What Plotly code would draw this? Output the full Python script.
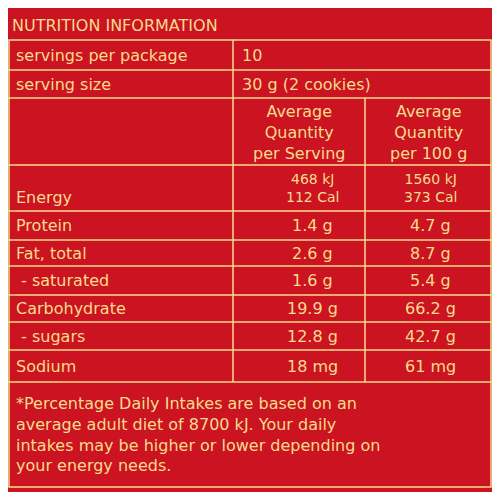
import plotly.graph_objects as go

title = "NUTRITION INFORMATION"
top_labels = ["servings per package", "serving size"]
top_values = ["10", "30 g (2 cookies)"]
col_headers = ["Average<br>Quantity<br>per Serving", "Average<br>Quantity<br>per 100 g"]
nutrients = ["Energy", "Protein", "Fat, total", " - saturated", "Carbohydrate", " - sugars", "Sodium"]
per_serving = ["468 kJ<br>112 Cal", "1.4 g", "2.6 g", "1.6 g", "19.9 g", "12.8 g", "18 mg"]
per_100g = ["1560 kJ<br>373 Cal", "4.7 g", "8.7 g", "5.4 g", "66.2 g", "42.7 g", "61 mg"]
footnote = ("*Percentage Daily Intakes are based on an<br>average adult diet of 8700 kJ. Your daily<br>"
            "intakes may be higher or lower depending on<br>your energy needs.")

BG = "#cc1322"
FG = "#f6dc8c"
FONT = "DejaVu Sans, Verdana, sans-serif"

top_bounds = [40, 70, 98]
header_bottom = 165
row_bounds = [165, 211, 240, 266, 295, 322, 350, 382]
foot_bottom = 487
xL, xR, c1, c2 = 8, 492, 233, 365

fig = go.Figure()
shapes = []
def line(x0, y0, x1, y1, w=1.5):
    shapes.append(dict(type="line", x0=x0, y0=y0, x1=x1, y1=y1, line=dict(color=FG, width=w)))

shapes.append(dict(type="rect", x0=xL + 1, y0=40, x1=xR - 1, y1=foot_bottom, line=dict(color=FG, width=1.5)))
for y in top_bounds[1:] + [header_bottom] + row_bounds[1:]:
    line(xL, y, xR, y)
line(c1, 40, c1, row_bounds[-1])
line(c2, top_bounds[2], c2, row_bounds[-1])

ann = []
def txt(x, y, s, anchor="left", size=16, va="middle"):
    ann.append(dict(x=x, y=y, text=s, showarrow=False, xanchor=anchor, yanchor=va,
                    font=dict(color=FG, size=size, family=FONT),
                    align="center" if anchor == "center" else "left"))

txt(10, 25, title, size=16)
txt(14, 55, top_labels[0])
txt(240, 55, top_values[0])
txt(14, 84, top_labels[1])
txt(240, 84, top_values[1])
txt((c1 + c2) / 2, 132, col_headers[0], "center")
txt((c2 + xR) / 2, 132, col_headers[1], "center")
for i, n in enumerate(nutrients):
    ym = (row_bounds[i] + row_bounds[i + 1]) / 2
    if i == 0:
        txt(14, ym + 9, n)
        txt(312, ym, per_serving[i], "center", size=14)
        txt(430, ym, per_100g[i], "center", size=14)
    else:
        txt(14, ym, n)
        txt(312, ym, per_serving[i], "center")
        txt(430, ym, per_100g[i], "center")
txt(14, 434, footnote, size=16)

fig.update_layout(width=484, height=484, margin=dict(l=0, r=0, t=0, b=0),
                  paper_bgcolor=BG, plot_bgcolor=BG, shapes=shapes, annotations=ann,
                  xaxis=dict(range=[8, 492], visible=False, fixedrange=True),
                  yaxis=dict(range=[492, 8], visible=False, fixedrange=True),
                  showlegend=False)
fig.write_html("out.html")
